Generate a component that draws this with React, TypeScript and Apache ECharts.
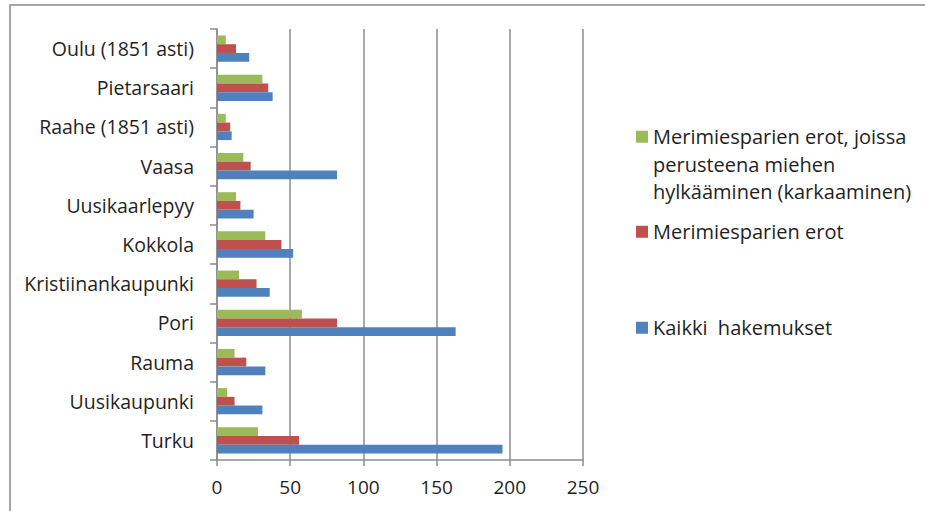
import React, { useEffect, useRef } from "react";
import * as echarts from "echarts";

const categories = [
  "Turku",
  "Uusikaupunki",
  "Rauma",
  "Pori",
  "Kristiinankaupunki",
  "Kokkola",
  "Uusikaarlepyy",
  "Vaasa",
  "Raahe (1851 asti)",
  "Pietarsaari",
  "Oulu (1851 asti)",
];

const kaikkiHakemukset = [195, 31, 33, 163, 36, 52, 25, 82, 10, 38, 22];
const merimiesparienErot = [56, 12, 20, 82, 27, 44, 16, 23, 9, 35, 13];
const karkaaminen = [28, 7, 12, 58, 15, 33, 13, 18, 6, 31, 6];

const NAME_GREEN = "Merimiesparien erot, joissa perusteena miehen hylkääminen (karkaaminen)";
const NAME_GREEN_LINES = ["Merimiesparien erot, joissa", "perusteena miehen", "hylkääminen (karkaaminen)"];
const NAME_RED = "Merimiesparien erot";
const NAME_BLUE = "Kaikki  hakemukset";

const xTicks = [0, 50, 100, 150, 200, 250];

const FONT = "'Open Sans', 'Noto Sans', sans-serif";
const TEXT = "#1f1f1f";
const GRID = "#8c8c8c";

export default function App() {
  const ref = useRef<HTMLDivElement>(null);

  useEffect(() => {
    if (!ref.current) return;
    const chart = echarts.init(ref.current, undefined, { renderer: "svg" });
    const legendText = { fontSize: 20, lineHeight: 27.5, fontFamily: FONT, color: TEXT };
    const legendBase = {
      orient: "vertical",
      left: 636,
      padding: 0,
      itemWidth: 12,
      itemHeight: 12,
      icon: "rect",
      selectedMode: false,
      textStyle: legendText,
    };
    chart.setOption({
      animation: false,
      backgroundColor: "#ffffff",
      textStyle: { fontFamily: FONT },
      graphic: [
        {
          type: "rect",
          shape: { x: 10, y: 5, width: 1000, height: 1000 },
          style: { fill: "none", stroke: "#8a8a8a", lineWidth: 1.5 },
          silent: true,
        },
      ],
      legend: [
        {
          ...legendBase,
          top: 68,
          data: [{ name: NAME_GREEN }],
          formatter: () => "\n\n" + NAME_GREEN_LINES.join("\n"),
        },
        { ...legendBase, top: 218, data: [{ name: NAME_RED }] },
        { ...legendBase, top: 314, data: [{ name: NAME_BLUE }] },
      ],
      grid: { left: 217, right: 342, top: 29, bottom: 51, containLabel: false },
      xAxis: {
        type: "value",
        min: xTicks[0],
        max: xTicks[xTicks.length - 1],
        interval: 50,
        axisLine: { show: true, lineStyle: { color: GRID, width: 1.5 } },
        axisTick: { show: true, length: 6, lineStyle: { color: GRID, width: 1.5 } },
        splitLine: { show: true, lineStyle: { color: GRID, width: 1.5 } },
        axisLabel: { fontSize: 19, color: TEXT, margin: 17, fontFamily: FONT },
      },
      yAxis: {
        type: "category",
        data: categories,
        axisLine: { show: true, lineStyle: { color: GRID, width: 1.5 } },
        axisTick: { show: true, length: 7, lineStyle: { color: GRID, width: 1.5 } },
        axisLabel: { fontSize: 19.5, color: TEXT, margin: 23, fontFamily: FONT },
        splitLine: { show: false },
      },
      series: [
        {
          name: NAME_GREEN,
          type: "bar",
          data: karkaaminen,
          itemStyle: { color: "#9BBB59" },
          barGap: "0%",
          barCategoryGap: "33%",
        },
        {
          name: NAME_RED,
          type: "bar",
          data: merimiesparienErot,
          itemStyle: { color: "#C0504D" },
          barGap: "0%",
          barCategoryGap: "33%",
        },
        {
          name: NAME_BLUE,
          type: "bar",
          data: kaikkiHakemukset,
          itemStyle: { color: "#4F81BD" },
          barGap: "0%",
          barCategoryGap: "33%",
        },
      ],
    });
    return () => chart.dispose();
  }, []);

  return (
    <div
      ref={ref}
      style={{ position: "absolute", left: 0, top: 0, width: 925, height: 511 }}
    />
  );
}
